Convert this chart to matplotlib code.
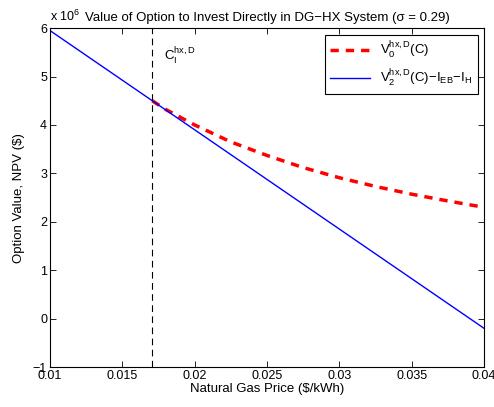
import matplotlib
matplotlib.use('Agg')
import matplotlib.pyplot as plt
import numpy as np

plt.rcParams['font.family'] = ['Liberation Sans', 'DejaVu Sans']
plt.rcParams['mathtext.fontset'] = 'custom'
plt.rcParams['mathtext.rm'] = 'Liberation Sans'
plt.rcParams['mathtext.it'] = 'Liberation Sans'
plt.rcParams['mathtext.bf'] = 'Liberation Sans'

# values in units of 1e6 $
gas_price_v0 = [0.01707, 0.018, 0.02, 0.0225, 0.025, 0.0275, 0.03, 0.0325, 0.035, 0.0375, 0.04]
option_v0 = [4.50, 4.32, 4.00, 3.65, 3.37, 3.12, 2.91, 2.73, 2.57, 2.43, 2.30]

gas_price_v2 = [0.01, 0.04]
npv_v2 = [5.95, -0.20]

c_threshold = 0.01707

xticks = [0.01, 0.015, 0.02, 0.025, 0.03, 0.035, 0.04]
xtick_labels = ['0.01', '0.015', '0.02', '0.025', '0.03', '0.035', '0.04']
yticks = [-1, 0, 1, 2, 3, 4, 5, 6]

fig = plt.figure(figsize=(4.94, 4.07), dpi=100)
ax = fig.add_axes([0.101, 0.098, 0.879, 0.833])

ax.plot(gas_price_v0, option_v0, color='red', ls='--', lw=2.5, dashes=(2.4, 2.0),
        label=r'V$_0^{\rm hx,D}$(C)')
ax.plot(gas_price_v2, npv_v2, color='blue', lw=1,
        label=r'V$_2^{\rm hx,D}$(C)$-$I$_{\rm EB}$$-$I$_{\rm H}$')
ax.axvline(c_threshold, color='black', ls='--', lw=0.8, dashes=(6, 4))
ax.text(0.0179, 5.42, r'C$_{\rm I}^{\rm hx,D}$', fontsize=9.5, va='center')

ax.set_xlim(0.01, 0.04)
ax.set_ylim(-1, 6)
ax.set_xticks(xticks)
ax.set_xticklabels(xtick_labels)
ax.set_yticks(yticks)
ax.set_yticklabels([str(t).replace('-', '\u2212') for t in yticks])
ax.tick_params(direction='in', top=True, right=True, labelsize=9, length=4, width=0.6, pad=2)
for s in ax.spines.values():
    s.set_linewidth(0.8)

ax.set_xlabel('Natural Gas Price ($/kWh)', fontsize=9.5, labelpad=1)
ax.set_ylabel('Option Value, NPV ($)', fontsize=9.5, labelpad=6)
ax.set_title('Value of Option to Invest Directly in DG\u2212HX System (\u03c3 = 0.29)',
             fontsize=9.5, pad=5)
ax.text(0.0, 1.012, r'x 10$^6$', transform=ax.transAxes, fontsize=9, va='bottom')

leg = ax.legend(loc='upper right', fontsize=9.5, fancybox=False, framealpha=1,
                edgecolor='black', handlelength=3.0, borderaxespad=0.5)
leg.get_frame().set_linewidth(0.8)

plt.savefig('out.png', dpi=100)
